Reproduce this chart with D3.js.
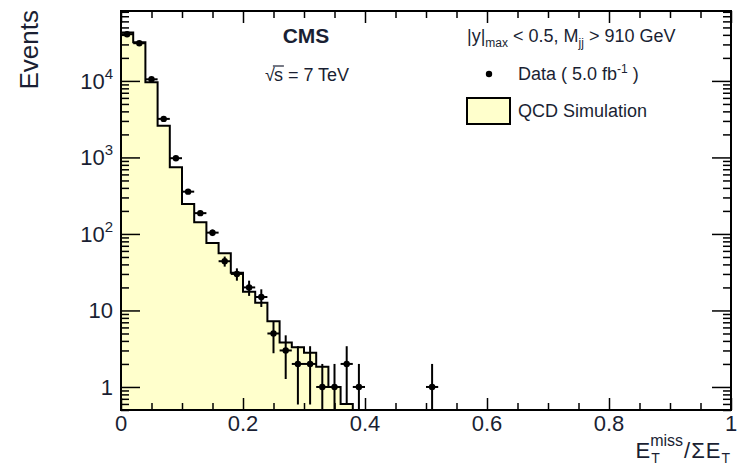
<!DOCTYPE html>
<html>
<head>
<meta charset="utf-8">
<script src="https://cdn.jsdelivr.net/npm/d3@7/dist/d3.min.js"></script>
<style>
  body { margin: 0; background: #fff; }
  svg { display: block; }
  text { font-family: "Liberation Sans", Arial, Helvetica, sans-serif; fill: #1a1f33; }
</style>
</head>
<body>
<svg id="chart" width="737" height="469"></svg>
<script>
// Simulated QCD histogram: lower bin edges and contents
const binLow = [0, 0.02, 0.04, 0.06, 0.08, 0.10, 0.12, 0.14, 0.16, 0.18,
                0.20, 0.22, 0.24, 0.26, 0.28, 0.30, 0.32, 0.34, 0.36];
const binWidth = 0.02;
const qcdSim = [42800, 32000, 9600, 2600, 745, 247, 142, 76, 56, 31,
                17.6, 12.6, 7.2, 3.8, 3.3, 2.8, 1.84, 1.0, 0.6];

// Measured data: bin centres, counts and statistical errors
const dataX = [0.01, 0.03, 0.05, 0.07, 0.09, 0.11, 0.13, 0.15, 0.17, 0.19, 0.21,
               0.23, 0.25, 0.27, 0.29, 0.31, 0.33, 0.35, 0.37, 0.39, 0.51];
const dataY = [40800, 31100, 10500, 3190, 977, 357, 187, 104, 44, 30, 20,
               15, 5, 3, 2, 2, 1, 1, 2, 1, 1];
const dataErr = [202, 176, 102, 56, 31, 19, 13.7, 10.2, 6.6, 5.5, 4.5,
                 3.9, 2.24, 1.73, 1.41, 1.41, 1, 1, 1.41, 1, 1];

// Axis tick labels
const xTickValues = [0, 0.2, 0.4, 0.6, 0.8, 1];
const xTickLabels = ["0", "0.2", "0.4", "0.6", "0.8", "1"];
const yTickValues = [1, 10, 100, 1000, 10000];
const yTickBase = ["1", "10", "10", "10", "10"];
const yTickExp = ["", "", "2", "3", "4"];

const svg = d3.select("#chart");
const L = 121, R = 731, T = 11, B = 410;

const x = d3.scaleLinear().domain([0, 1]).range([L, R]);
const y = d3.scaleLog().domain([0.5, 82000]).range([B, T]).clamp(true);

svg.append("defs").append("clipPath").attr("id", "plotclip")
  .append("rect").attr("x", L).attr("y", T).attr("width", R - L).attr("height", B - T);

const plot = svg.append("g").attr("clip-path", "url(#plotclip)");

// Step histogram
const stepPts = [[x(0), B]];
binLow.forEach((b, i) => {
  stepPts.push([x(b), y(qcdSim[i])]);
  stepPts.push([x(b + binWidth), y(qcdSim[i])]);
});
stepPts.push([x(binLow[binLow.length - 1] + binWidth), B]);
const line = d3.line();
plot.append("path").attr("d", line(stepPts) + "Z")
  .attr("fill", "#ffffcc").attr("stroke", "none");
plot.append("path").attr("d", line(stepPts))
  .attr("fill", "none").attr("stroke", "#000").attr("stroke-width", 2);

// Data points with error bars
const pts = plot.append("g").selectAll("g").data(dataX.map((c, i) => ({c, v: dataY[i], e: dataErr[i]})))
  .join("g");
pts.append("line")
  .attr("x1", d => x(d.c - binWidth / 2)).attr("x2", d => x(d.c + binWidth / 2))
  .attr("y1", d => y(d.v)).attr("y2", d => y(d.v))
  .attr("stroke", "#000").attr("stroke-width", 2);
pts.append("line")
  .attr("x1", d => x(d.c)).attr("x2", d => x(d.c))
  .attr("y1", d => y(d.v + d.e)).attr("y2", d => y(Math.max(d.v - d.e, 0.5)))
  .attr("stroke", "#000").attr("stroke-width", 2);
pts.append("circle")
  .attr("cx", d => x(d.c)).attr("cy", d => y(d.v)).attr("r", 3.2).attr("fill", "#000");

// Tick marks
const xMinor = d3.range(0, 1.0001, 0.05).filter(v => Math.abs(Math.round(v * 5) - v * 5) > 1e-6);
const yMinor = [];
[-1, 0, 1, 2, 3, 4].forEach(p => {
  for (let k = 2; k <= 9; k++) {
    const v = k * Math.pow(10, p);
    if (v >= 0.5 && v <= 82000) yMinor.push(v);
  }
});

function tickAxis(axisFn, scale, vals, size, tx, ty) {
  const g = svg.append("g").attr("transform", `translate(${tx},${ty})`)
    .call(axisFn(scale).tickValues(vals).tickSize(size).tickFormat(""));
  g.select(".domain").remove();
  g.selectAll(".tick line").attr("stroke", "#000").attr("stroke-width", 1.5);
  return g;
}
tickAxis(d3.axisBottom, x, xTickValues, -12, 0, B);
tickAxis(d3.axisBottom, x, xMinor, -7, 0, B);
tickAxis(d3.axisTop, x, xTickValues, -12, 0, T);
tickAxis(d3.axisTop, x, xMinor, -7, 0, T);
tickAxis(d3.axisLeft, y, yTickValues, -19, L, 0);
tickAxis(d3.axisLeft, y, yMinor, -8, L, 0);
tickAxis(d3.axisRight, y, yTickValues, -19, R, 0);
tickAxis(d3.axisRight, y, yMinor, -8, R, 0);

// Frame
svg.append("rect").attr("x", L).attr("y", T).attr("width", R - L).attr("height", B - T)
  .attr("fill", "none").attr("stroke", "#000").attr("stroke-width", 2);

// Tick labels
svg.append("g").selectAll("text").data(xTickValues).join("text")
  .attr("x", d => x(d)).attr("y", B + 21).attr("text-anchor", "middle")
  .attr("font-size", 22).text((d, i) => xTickLabels[i]);

const yl = svg.append("g").selectAll("text").data(yTickValues).join("text")
  .attr("x", L - 8).attr("y", d => y(d) + 8).attr("text-anchor", "end").attr("font-size", 22);
yl.append("tspan").text((d, i) => yTickBase[i]);
yl.append("tspan").attr("font-size", 15).attr("dy", -10).text((d, i) => yTickExp[i]);

// Axis titles
svg.append("text").attr("transform", "translate(38,10) rotate(-90)")
  .attr("text-anchor", "end").attr("font-size", 26).text("Events");

const xt = svg.append("g");
function piece(g, str, px, py, size) {
  const t = g.append("text").attr("x", px).attr("y", py).attr("font-size", size).text(str);
  return t.node().getComputedTextLength();
}
{
  const base = 458;
  let cx = 0;
  cx += piece(xt, "E", cx, base, 22);
  const wSub = piece(xt, "T", cx + 1, base + 5, 14);
  const wSup = piece(xt, "miss", cx, base - 12, 16);
  cx += Math.max(wSub, wSup) + 1;
  cx += piece(xt, "/", cx, base, 22);
  cx += piece(xt, "Σ", cx + 1, base, 22) + 2;
  cx += piece(xt, "E", cx, base, 22);
  cx += piece(xt, "T", cx + 1, base + 5, 14) + 1;
  xt.attr("transform", `translate(${730 - cx},0)`);
}

// Experiment labels
svg.append("text").attr("x", 306).attr("y", 43).attr("text-anchor", "middle")
  .attr("font-size", 21).attr("font-weight", "bold").text("CMS");
{
  const g = svg.append("g");
  const base = 81;
  let cx = 265;
  cx += piece(g, "√", cx, base, 18) - 1;
  const ws = piece(g, "s", cx, base, 18);
  g.append("line").attr("x1", cx - 1).attr("x2", cx + ws + 1).attr("y1", base - 15).attr("y2", base - 15)
    .attr("stroke", "#1a1f33").attr("stroke-width", 1.2);
  cx += ws;
  piece(g, "\u00a0= 7 TeV", cx, base, 18);
}

// Legend
{
  const h = svg.append("text").attr("x", 467).attr("y", 42).attr("font-size", 18);
  h.append("tspan").text("|y|");
  h.append("tspan").attr("font-size", 12).attr("dy", 5).text("max");
  h.append("tspan").attr("dy", -5).text(" < 0.5, M");
  h.append("tspan").attr("font-size", 12).attr("dy", 5).text("jj");
  h.append("tspan").attr("dy", -5).text(" > 910 GeV");

  svg.append("circle").attr("cx", 489).attr("cy", 74).attr("r", 3.2).attr("fill", "#000");
  const d = svg.append("text").attr("x", 518).attr("y", 80).attr("font-size", 18);
  d.append("tspan").text("Data ( 5.0 fb");
  d.append("tspan").attr("font-size", 12).attr("dy", -7).text("-1");
  d.append("tspan").attr("dy", 7).text(" )");

  svg.append("rect").attr("x", 467).attr("y", 98).attr("width", 43).attr("height", 26)
    .attr("fill", "#ffffcc").attr("stroke", "#000").attr("stroke-width", 2);
  svg.append("text").attr("x", 518).attr("y", 117).attr("font-size", 18).text("QCD Simulation");
}
</script>
</body>
</html>
